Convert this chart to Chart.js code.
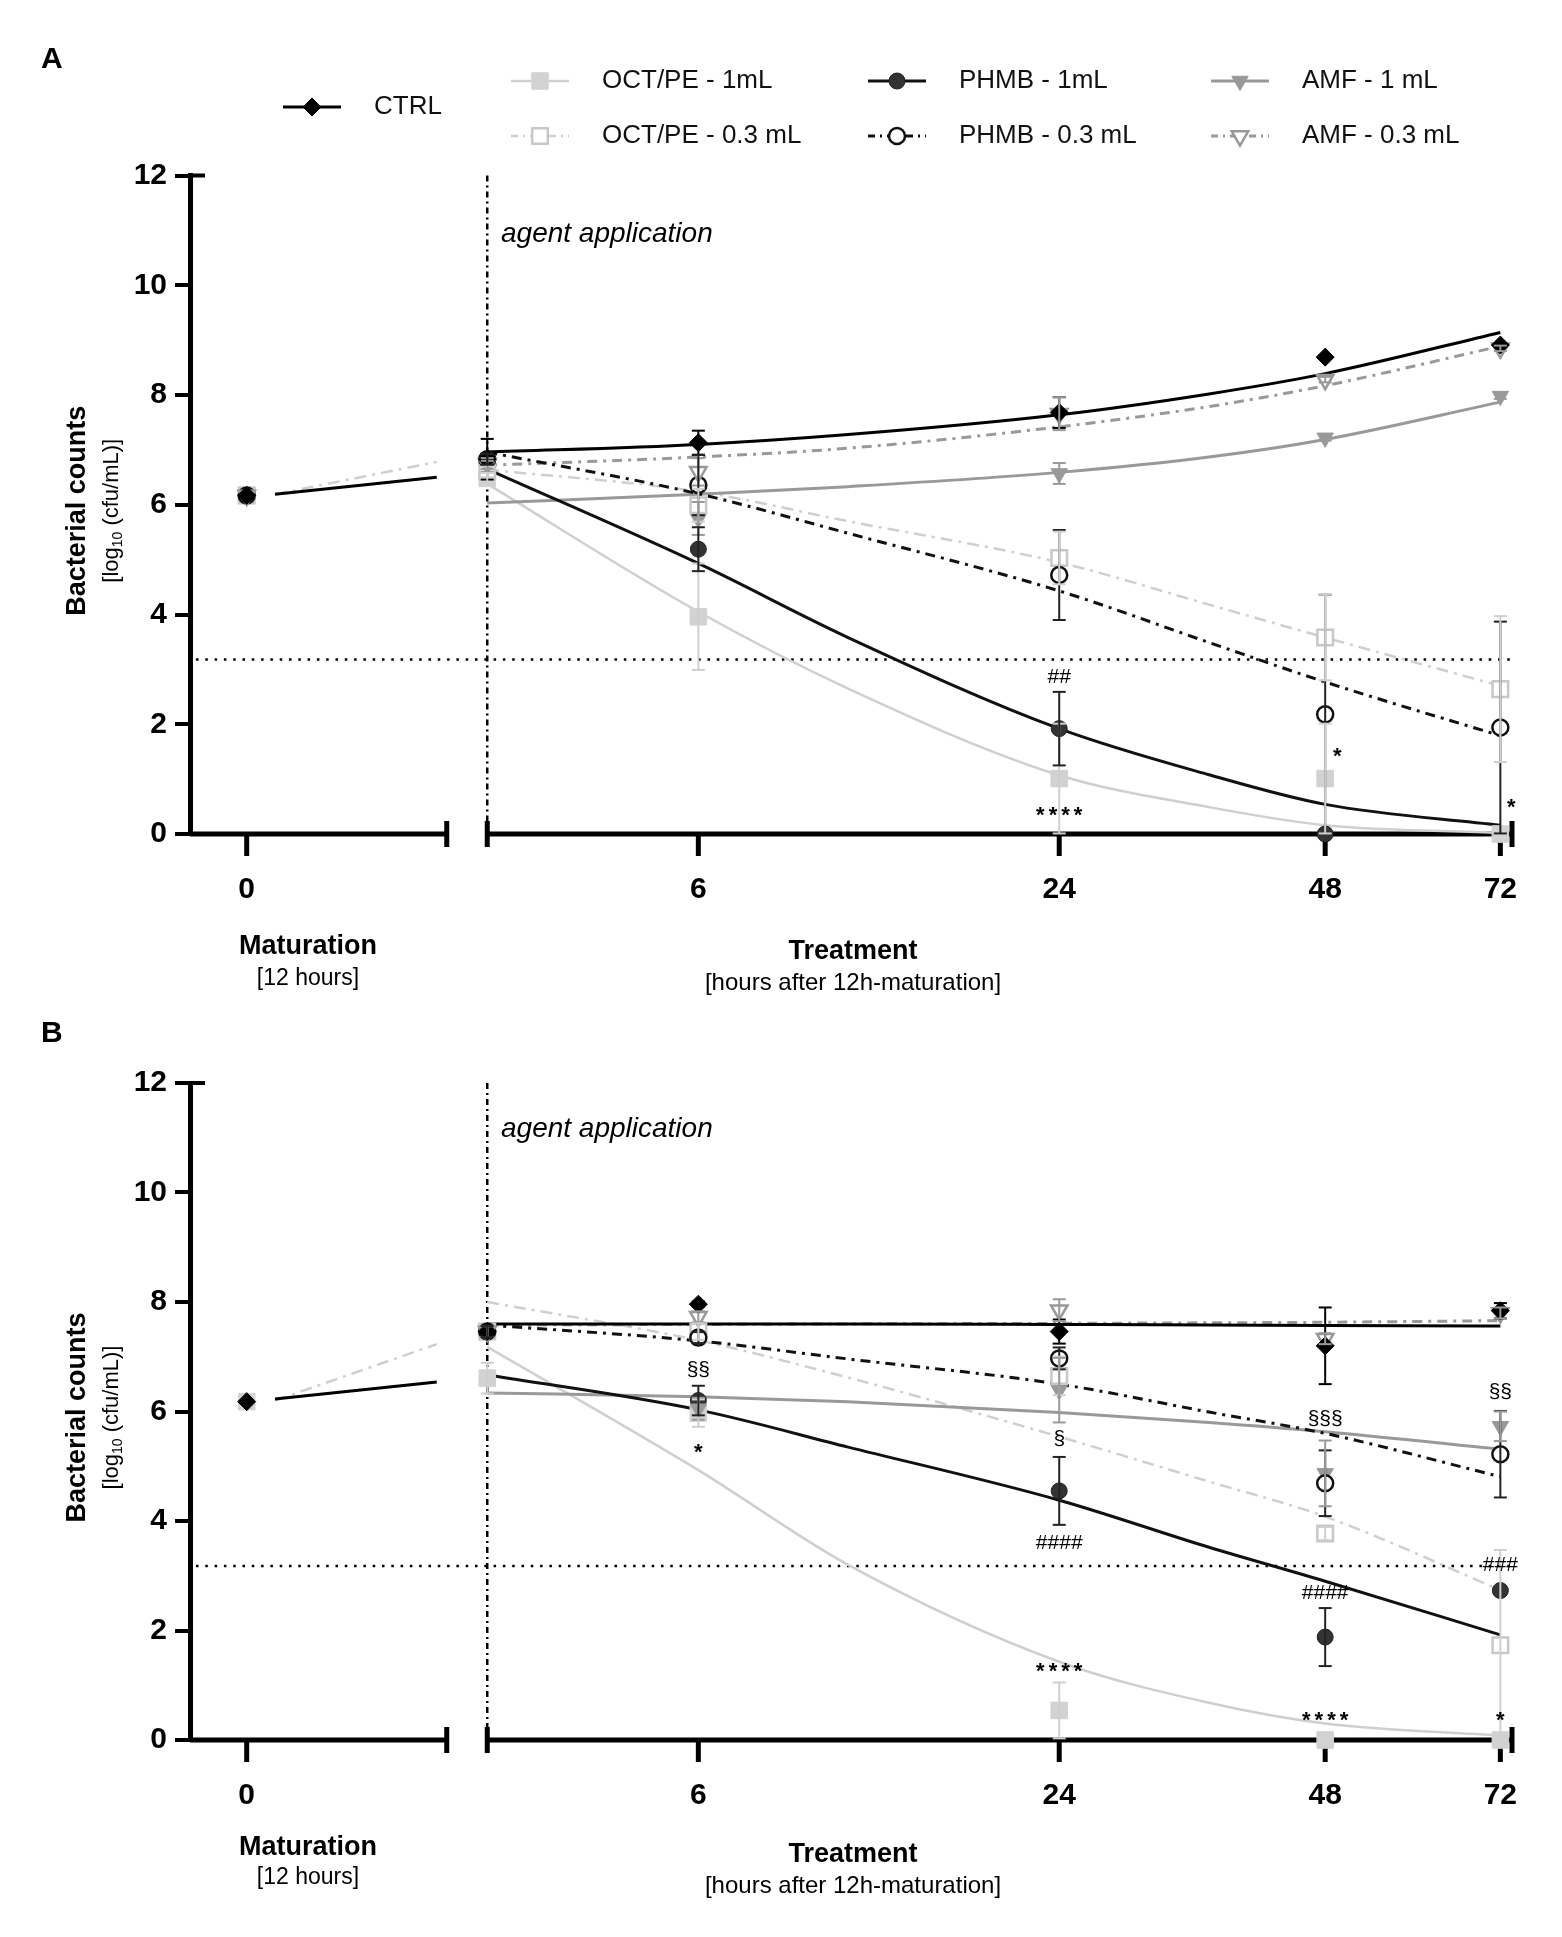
<!DOCTYPE html>
<html>
<head>
<meta charset="utf-8">
<title>Bacterial counts</title>
<script src="https://cdn.jsdelivr.net/npm/chart.js@4.4.1/dist/chart.umd.min.js"></script>
<style>
  html, body { margin: 0; padding: 0; background: #fff; }
  #wrap { position: relative; width: 1562px; height: 1937px; }
  canvas { position: absolute; left: 0; }
  #chartA { top: 0; }
  #chartB { top: 1000px; }
</style>
</head>
<body>
<div id="wrap">
  <canvas id="chartA" width="1562" height="1000"></canvas>
  <canvas id="chartB" width="1562" height="937"></canvas>
</div>
<script>
// time is in hours since inoculation, the agent is applied at 12 h
const treatmentHours = [12, 18, 36, 60, 84]
const treatmentTickHours = [18, 36, 60, 84]
const treatmentTickLabels = ['6', '24', '48', '72']
const maturationTickLabel = '0'
const fitHours = [12, 18, 24, 36, 48, 60, 84]
const maturationFitHours = [1.7, 11.4]
const detectionLimit = 3.18

const seriesKeys = ['ctrl', 'oct1', 'oct03', 'phmb1', 'phmb03', 'amf1', 'amf03']
const seriesLabels = ['CTRL', 'OCT/PE - 1mL', 'OCT/PE - 0.3 mL', 'PHMB - 1mL', 'PHMB - 0.3 mL', 'AMF - 1 mL', 'AMF - 0.3 mL']

// ---- panel A: means / SD at 0, 6, 24, 48, 72 h of treatment ----
const aMaturation = [6.17, 6.17, 6.17, 6.17, 6.17, 6.17, 6.17]
const aCtrl = [6.83, 7.13, 7.68, 8.69, 8.91]
const aCtrlErr = [0.37, 0.22, 0.28, 0, 0]
const aOct1 = [6.48, 3.96, 1.01, 1.01, 0]
const aOct1Err = [0.1, 0.97, 1.0, 1.0, 0]
const aOct03 = [6.6, 5.99, 5.03, 3.58, 2.64]
const aOct03Err = [0.1, 0.3, 0.48, 0.78, 1.33]
const aPhmb1 = [6.83, 5.19, 1.92, 0, 0]
const aPhmb1Err = [0.1, 0.4, 0.67, 0, 0]
const aPhmb03 = [6.83, 6.36, 4.72, 2.18, 1.94]
const aPhmb03Err = [0.1, 0.55, 0.82, 2.18, 1.93]
const aAmf1 = [6.7, 5.75, 6.57, 7.22, 7.98]
const aAmf1Err = [0.1, 0.3, 0.19, 0.05, 0.05]
const aAmf03 = [6.75, 6.6, 7.66, 8.28, 8.85]
const aAmf03Err = [0.1, 0.25, 0.3, 0.05, 0.05]

// fitted curves, read at fitHours
const aCtrlFit = [6.96, 7.10, 7.28, 7.64, 8.02, 8.39, 9.14]
const aOct1Fit = [6.38, 4.05, 2.65, 1.07, 0.49, 0.16, 0.02]
const aOct03Fit = [6.64, 6.24, 5.70, 4.95, 4.18, 3.58, 2.70]
const aPhmb1Fit = [6.65, 4.93, 3.58, 1.92, 1.08, 0.54, 0.16]
const aPhmb03Fit = [6.96, 6.20, 5.48, 4.43, 3.49, 2.77, 1.79]
const aAmf1Fit = [6.03, 6.19, 6.33, 6.59, 6.87, 7.19, 7.87]
const aAmf03Fit = [6.72, 6.87, 7.03, 7.42, 7.79, 8.17, 8.89]
const aMatSolid = [6.19, 6.5]
const aMatDash = [6.19, 6.78]

const aNoteText = ['##', '****', '*', '*']
const aNoteHours = [36, 36, 60, 84]
const aNoteValues = [2.85, 0.41, 1.48, 0.54]

// ---- panel B ----
const bMaturation = [6.18, 6.18, null, null, null, null, null]
const bCtrl = [7.46, 7.96, 7.46, 7.2, 7.84]
const bCtrlErr = [0.1, 0.05, 0.22, 0.7, 0.14]
const bOct1 = [6.61, 5.97, 0.54, 0, 0]
const bOct1Err = [0.28, 0.25, 0.51, 0, 0]
const bOct03 = [7.46, 7.46, 6.65, 3.77, 1.73]
const bOct03Err = [0.1, 0.15, 0.35, 0.12, 1.74]
const bPhmb1 = [7.46, 6.2, 4.55, 1.88, 2.73]
const bPhmb1Err = [0.1, 0.27, 0.62, 0.53, 0]
const bPhmb03 = [7.46, 7.35, 6.97, 4.69, 5.22]
const bPhmb03Err = [0.1, 0.1, 0.2, 0.6, 0.79]
const bAmf1 = [7.46, 6.05, 6.39, 4.87, 5.73]
const bAmf1Err = [0.1, 0.2, 0.59, 0.6, 0.27]
const bAmf03 = [7.46, 7.73, 7.85, 7.33, 7.8]
const bAmf03Err = [0.1, 0.1, 0.2, 0.1, 0.1]

const bCtrlFit = [7.60, 7.60, 7.60, 7.59, 7.58, 7.57, 7.56]
const bOct1Fit = [7.18, 4.93, 3.20, 1.43, 0.68, 0.30, 0.08]
const bOct03Fit = [8.00, 7.30, 6.62, 5.54, 4.72, 4.08, 2.74]
const bPhmb1Fit = [6.67, 6.03, 5.35, 4.38, 3.52, 2.90, 1.92]
const bPhmb03Fit = [7.58, 7.29, 6.96, 6.50, 5.99, 5.60, 4.81]
const bAmf1Fit = [6.34, 6.27, 6.18, 5.98, 5.80, 5.63, 5.31]
const bAmf03Fit = [7.58, 7.59, 7.60, 7.61, 7.62, 7.63, 7.66]
const bMatSolid = [6.23, 6.54]
const bMatDash = [6.2, 7.23]

const bNoteText = ['§§', '*', '§', '####', '****', '§§§', '####', '****', '§§', '###', '*']
const bNoteHours = [18, 18, 36, 36, 36, 60, 60, 60, 84, 84, 84]
const bNoteValues = [6.76, 5.32, 5.49, 3.59, 1.31, 5.86, 2.68, 0.43, 6.36, 3.2, 0.43]

// ---- styles ----
const LIGHT = '#cfcfcf'
const MID = '#999999'
const DASHDOT = [10, 6, 3, 6]
const styles = {
  ctrl:   { line: '#000', lw: 3, dash: [], point: 'rectRot', r: 9, rot: 0, fill: '#000', stroke: '#000', pw: 1, err: '#000' },
  oct1:   { line: LIGHT, lw: 2.5, dash: [], point: 'rect', r: 11.7, rot: 0, fill: '#d2d2d2', stroke: '#d2d2d2', pw: 1, err: LIGHT },
  oct03:  { line: LIGHT, lw: 2.5, dash: [12, 6, 3, 6], point: 'rect', r: 11, rot: 0, fill: '#fff', stroke: '#c8c8c8', pw: 2.5, err: LIGHT },
  phmb1:  { line: '#111', lw: 3, dash: [], point: 'circle', r: 8, rot: 0, fill: '#333', stroke: '#222', pw: 1, err: '#222' },
  phmb03: { line: '#111', lw: 3, dash: DASHDOT, point: 'circle', r: 8, rot: 0, fill: '#fff', stroke: '#111', pw: 2.5, err: '#222' },
  amf1:   { line: MID, lw: 3, dash: [], point: 'triangle', r: 9.5, rot: 180, fill: MID, stroke: MID, pw: 1, err: MID },
  amf03:  { line: MID, lw: 3, dash: DASHDOT, point: 'triangle', r: 9.5, rot: 180, fill: '#fff', stroke: MID, pw: 2.5, err: MID }
}

const FONT = '"Liberation Sans", Arial, sans-serif'

function byKey(arr) {
  const o = {}
  seriesKeys.forEach((k, i) => { o[k] = arr[i] })
  return o
}

const panelA = {
  letter: 'A', padTop: 175.5, padBottom: 166, agentY: 66, matY: [113, 145], treatY: [118, 149], letterY: 60,
  mat: byKey(aMaturation),
  mean: byKey([aCtrl, aOct1, aOct03, aPhmb1, aPhmb03, aAmf1, aAmf03]),
  err: byKey([aCtrlErr, aOct1Err, aOct03Err, aPhmb1Err, aPhmb03Err, aAmf1Err, aAmf03Err]),
  fit: byKey([aCtrlFit, aOct1Fit, aOct03Fit, aPhmb1Fit, aPhmb03Fit, aAmf1Fit, aAmf03Fit]),
  matSolid: aMatSolid, matDash: aMatDash,
  notes: aNoteText.map((t, i) => ({ t, h: aNoteHours[i], v: aNoteValues[i] })),
  noteShift: [0, 0, 12, 11],
  legend: true
}
const panelB = {
  letter: 'B', padTop: 83, padBottom: 197, agentY: 54, matY: [108, 138], treatY: [115, 146], letterY: 34,
  mat: byKey(bMaturation),
  mean: byKey([bCtrl, bOct1, bOct03, bPhmb1, bPhmb03, bAmf1, bAmf03]),
  err: byKey([bCtrlErr, bOct1Err, bOct03Err, bPhmb1Err, bPhmb03Err, bAmf1Err, bAmf03Err]),
  fit: byKey([bCtrlFit, bOct1Fit, bOct03Fit, bPhmb1Fit, bPhmb03Fit, bAmf1Fit, bAmf03Fit]),
  matSolid: bMatSolid, matDash: bMatDash,
  notes: bNoteText.map((t, i) => ({ t, h: bNoteHours[i], v: bNoteValues[i] })),
  noteShift: [],
  legend: false
}

function buildDatasets(p) {
  const ds = []
  // fitted curves (first in list ends up on top)
  const curveOrder = ['ctrl', 'phmb03', 'phmb1', 'amf03', 'amf1', 'oct03', 'oct1']
  curveOrder.forEach((k, i) => {
    const s = styles[k]
    ds.push({
      xAxisID: 'x', yAxisID: 'y',
      data: fitHours.map((h, j) => ({ x: h, y: p.fit[k][j] })),
      borderColor: s.line, borderWidth: s.lw, borderDash: s.dash,
      pointRadius: 0, tension: 0.4, cubicInterpolationMode: 'monotone',
      fill: false, clip: false, order: 100 + i
    })
  })
  ds.push({
    xAxisID: 'xm', yAxisID: 'y',
    data: maturationFitHours.map((h, j) => ({ x: h, y: p.matDash[j] })),
    borderColor: LIGHT, borderWidth: 2.5, borderDash: styles.oct03.dash,
    pointRadius: 0, fill: false, order: 121
  })
  ds.push({
    xAxisID: 'xm', yAxisID: 'y',
    data: maturationFitHours.map((h, j) => ({ x: h, y: p.matSolid[j] })),
    borderColor: '#000', borderWidth: 3, pointRadius: 0, fill: false, order: 120
  })
  // markers
  const markerOrder = ['ctrl', 'amf03', 'phmb03', 'oct03', 'amf1', 'oct1', 'phmb1']
  markerOrder.forEach((k, i) => {
    const s = styles[k]
    const look = {
      yAxisID: 'y', showLine: false, clip: false, order: i,
      pointStyle: s.point, pointRadius: s.r, pointRotation: s.rot,
      pointBackgroundColor: s.fill, pointBorderColor: s.stroke, pointBorderWidth: s.pw,
      borderColor: s.stroke, backgroundColor: s.fill
    }
    ds.push(Object.assign({}, look, {
      xAxisID: 'x',
      data: treatmentHours.map((h, j) => ({ x: h, y: p.mean[k][j] })),
      errors: p.err[k], errColor: s.err
    }))
    if (p.mat[k] != null) {
      ds.push(Object.assign({}, look, { xAxisID: 'xm', data: [{ x: 0, y: p.mat[k] }] }))
    }
  })
  return ds
}

function seg(ctx, x1, y1, x2, y2) {
  ctx.beginPath(); ctx.moveTo(x1, y1); ctx.lineTo(x2, y2); ctx.stroke()
}
function label(ctx, str, x, y, font, align) {
  ctx.font = font
  ctx.textAlign = align || 'center'
  ctx.textBaseline = 'middle'
  ctx.fillText(str, x, y)
}

function overlay(p) {
  return {
    id: 'overlay',
    beforeDatasetsDraw(chart) {
      const { ctx, chartArea: ca, scales } = chart
      const x = scales.x, xm = scales.xm, y = scales.y
      const y0 = y.getPixelForValue(0)
      const xa = x.getPixelForValue(12)
      ctx.save()
      ctx.strokeStyle = '#000'
      ctx.fillStyle = '#000'
      ctx.lineCap = 'butt'

      // detection limit
      ctx.lineWidth = 2.5
      ctx.setLineDash([2.5, 6.8])
      const yl = y.getPixelForValue(detectionLimit)
      seg(ctx, ca.left + 6, yl, ca.right, yl)

      // agent application
      ctx.setLineDash([6, 4, 2, 4])
      seg(ctx, xa, y.getPixelForValue(12), xa, y0)
      ctx.setLineDash([])

      // broken x axis
      ctx.lineWidth = 5
      const leftEnd = xm.getPixelForValue(12)
      seg(ctx, ca.left, y0, leftEnd, y0)
      seg(ctx, leftEnd, y0 - 13, leftEnd, y0 + 13)
      seg(ctx, xa, y0 - 13, xa, y0 + 13)
      seg(ctx, xa, y0, ca.right, y0)
      seg(ctx, ca.right, y0 - 13, ca.right, y0 + 13)
      const xm0 = xm.getPixelForValue(0)
      seg(ctx, xm0, y0, xm0, y0 + 22)
      treatmentTickHours.forEach(h => {
        const px = x.getPixelForValue(h)
        seg(ctx, px, y0, px, y0 + 22)
      })
      // top cap of the y axis
      ctx.lineWidth = 4
      const y12 = y.getPixelForValue(12)
      seg(ctx, ca.left, y12, ca.left + 15, y12)

      // tick labels
      const tickFont = 'bold 30px ' + FONT
      label(ctx, maturationTickLabel, xm0, y0 + 56, tickFont)
      treatmentTickHours.forEach((h, i) => label(ctx, treatmentTickLabels[i], x.getPixelForValue(h), y0 + 56, tickFont))

      // axis titles
      label(ctx, 'Maturation', 308, y0 + p.matY[0], 'bold 27px ' + FONT)
      label(ctx, '[12 hours]', 308, y0 + p.matY[1], '23px ' + FONT)
      label(ctx, 'Treatment', 853, y0 + p.treatY[0], 'bold 27px ' + FONT)
      label(ctx, '[hours after 12h-maturation]', 853, y0 + p.treatY[1], '24px ' + FONT)

      const cy = (ca.top + ca.bottom) / 2 + 6
      ctx.save()
      ctx.translate(78, cy)
      ctx.rotate(-Math.PI / 2)
      label(ctx, 'Bacterial counts', 0, 0, 'bold 27px ' + FONT)
      ctx.restore()

      ctx.save()
      ctx.translate(112, cy)
      ctx.rotate(-Math.PI / 2)
      const parts = [['[log', '22px ' + FONT, 0], ['10', '14px ' + FONT, 6], [' (cfu/mL)]', '22px ' + FONT, 0]]
      let total = 0
      parts.forEach(pt => { ctx.font = pt[1]; total += ctx.measureText(pt[0]).width })
      let cx = -total / 2
      parts.forEach(pt => {
        ctx.font = pt[1]
        ctx.textAlign = 'left'
        ctx.textBaseline = 'middle'
        ctx.fillText(pt[0], cx, pt[2])
        cx += ctx.measureText(pt[0]).width
      })
      ctx.restore()

      // agent application note
      ctx.font = 'italic 28px ' + FONT
      ctx.textAlign = 'left'
      ctx.textBaseline = 'alphabetic'
      ctx.fillText('agent application', 501, ca.top + p.agentY)

      // panel letter
      label(ctx, p.letter, 41, p.letterY, 'bold 30px ' + FONT, 'left')
      ctx.restore()
    },
    afterDatasetsDraw(chart) {
      const { ctx, scales } = chart
      const x = scales.x, y = scales.y
      ctx.save()
      ctx.setLineDash([])
      ctx.lineWidth = 2
      // error bars
      chart.data.datasets.forEach((d, i) => {
        if (!d.errors) return
        const meta = chart.getDatasetMeta(i)
        meta.data.forEach((pt, j) => {
          const e = d.errors[j]
          if (!e) return
          const v = d.data[j].y
          const yt = y.getPixelForValue(v + e)
          const low = Math.max(0, v - e)
          const yb = y.getPixelForValue(low)
          ctx.strokeStyle = d.errColor
          seg(ctx, pt.x, yt, pt.x, yb)
          seg(ctx, pt.x - 6.5, yt, pt.x + 6.5, yt)
          if (low > 0) seg(ctx, pt.x - 6.5, yb, pt.x + 6.5, yb)
        })
      })
      // significance marks
      ctx.fillStyle = '#000'
      p.notes.forEach((n, i) => {
        const px = x.getPixelForValue(n.h) + (p.noteShift[i] || 0)
        const py = y.getPixelForValue(n.v)
        if (n.t.indexOf('*') === 0) {
          ctx.letterSpacing = '4px'
          label(ctx, n.t, px + 2, py + 4, 'bold 22px ' + FONT)
          ctx.letterSpacing = '0px'
        } else {
          label(ctx, n.t, px, py, '21px ' + FONT)
        }
      })
      ctx.restore()
    },
    afterDraw(chart) {
      if (!p.legend) return
      const ctx = chart.ctx
      const spots = [[312, 107], [540, 81], [540, 136], [897, 81], [897, 136], [1240, 81], [1240, 136]]
      ctx.save()
      seriesKeys.forEach((k, i) => {
        const s = styles[k]
        const [lx, ly] = spots[i]
        ctx.strokeStyle = s.line
        ctx.lineWidth = s.lw
        ctx.setLineDash(s.dash.length ? [7, 5, 2, 5] : [])
        seg(ctx, lx - 29, ly, lx + 29, ly)
        ctx.setLineDash([])
        ctx.fillStyle = s.fill
        ctx.strokeStyle = s.stroke
        ctx.lineWidth = s.pw
        Chart.helpers.drawPoint(ctx, { pointStyle: s.point, radius: s.r, rotation: s.rot, borderWidth: s.pw }, lx, ly)
        ctx.fillStyle = '#111'
        label(ctx, seriesLabels[i], lx + 62, ly, '26px ' + FONT, 'left')
      })
      ctx.restore()
    }
  }
}

function makeChart(id, p) {
  return new Chart(document.getElementById(id), {
    type: 'line',
    data: { datasets: buildDatasets(p) },
    options: {
      responsive: false,
      animation: false,
      devicePixelRatio: 1,
      layout: { padding: { top: p.padTop, bottom: p.padBottom, left: 0, right: 50 } },
      plugins: { legend: { display: false }, tooltip: { enabled: false } },
      scales: {
        x: { type: 'logarithmic', min: 6.78, max: 85.9, bounds: 'data', display: false },
        xm: { type: 'linear', axis: 'x', min: -3.4, max: 75.9, bounds: 'data', display: false },
        y: {
          type: 'linear', position: 'left', min: 0, max: 12,
          afterFit: s => { s.width = 190 },
          ticks: { stepSize: 2, color: '#000', padding: 8, font: { family: FONT, size: 30, weight: 'bold' } },
          grid: { drawOnChartArea: false, drawTicks: true, tickLength: 15, tickWidth: 4, tickColor: '#000', color: '#000', lineWidth: 4 },
          border: { display: true, width: 5, color: '#000' }
        }
      }
    },
    plugins: [overlay(p)]
  })
}

makeChart('chartA', panelA)
makeChart('chartB', panelB)
</script>
</body>
</html>
